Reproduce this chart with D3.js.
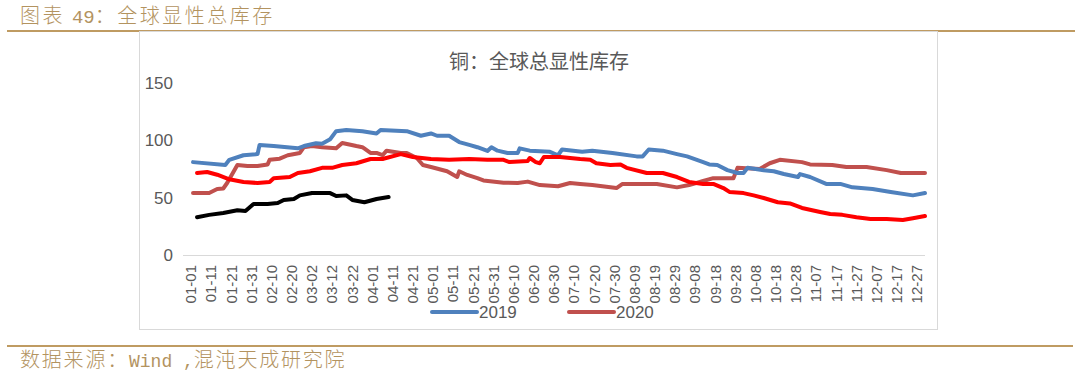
<!DOCTYPE html>
<html>
<head>
<meta charset="utf-8">
<script src="https://cdn.jsdelivr.net/npm/d3@7"></script>
<style>
  body { margin: 0; background: #fff; }
  svg { display: block; }
</style>
</head>
<body>
<div id="chart"></div>
<script>
// tick labels on the category axis (every 10 days)
const tickLabels = ['01-01', '01-11', '01-21', '01-31', '02-10', '02-20', '03-02', '03-12', '03-22',
  '04-01', '04-11', '04-21', '05-01', '05-11', '05-21', '05-31', '06-10', '06-20', '06-30',
  '07-10', '07-20', '07-30', '08-09', '08-19', '08-29', '09-08', '09-18', '09-28', '10-08',
  '10-18', '10-28', '11-07', '11-17', '11-27', '12-07', '12-17', '12-27'];
const yTicks = [0, 50, 100, 150];

// 2019 (blue)
const blueDates = ['01-02', '01-18', '01-20', '01-27', '02-03', '02-04', '02-11', '02-23', '02-26', '03-04',
  '03-07', '03-11', '03-14', '03-19', '03-27', '04-03', '04-05', '04-18', '04-25', '04-30', '05-03', '05-09',
  '05-14', '05-19', '05-23', '05-28', '05-30', '06-02', '06-07', '06-12', '06-13', '06-18', '06-28', '07-02',
  '07-04', '07-14', '07-19', '07-29', '08-10', '08-13', '08-16', '08-23', '08-30', '09-04', '09-12', '09-15',
  '09-19', '09-24', '09-29', '10-02', '10-04', '10-12', '10-17', '10-22', '10-29', '10-30', '11-04', '11-12',
  '11-19', '11-25', '12-05', '12-14', '12-25', '12-31'];
const blueValues = [81, 78.5, 83, 87, 88, 96, 95, 93, 95, 97.5,
  97, 101, 108, 109, 108, 106, 109, 108, 104, 106, 104, 104,
  98.5, 96, 94, 90.7, 94, 91, 89, 89, 93, 91, 90, 87,
  92, 90, 91, 89, 86, 86, 92, 91, 88, 86, 81, 79,
  78.5, 74, 71.5, 71.5, 76, 74, 73, 70.6, 68, 70.6, 68, 62,
  62, 59, 57.5, 55, 52, 54];

// 2020 (dark red)
const darkRedDates = ['01-02', '01-10', '01-14', '01-17', '01-19', '01-24', '01-29', '02-03', '02-08', '02-09',
  '02-14', '02-18', '02-24', '02-26', '03-02', '03-07', '03-14', '03-17', '03-24', '03-27', '03-31', '04-03',
  '04-06', '04-08', '04-15', '04-18', '04-23', '04-26', '04-30', '05-08', '05-13', '05-14', '05-18', '05-23',
  '05-26', '06-05', '06-12', '06-17', '06-23', '07-02', '07-08', '07-13', '07-19', '07-28', '07-31', '08-03',
  '08-20', '08-30', '09-05', '09-12', '09-17', '09-27', '09-29', '10-10', '10-15', '10-20', '10-31', '11-04',
  '11-15', '11-22', '12-02', '12-12', '12-19', '12-31'];
const darkRedValues = [54, 54, 57.5, 58, 63, 78.5, 77.6, 77.6, 79, 83,
  84, 87, 89, 94, 95, 94, 93, 97.7, 95, 94, 89, 89,
  87, 91, 89, 89, 84.6, 78.5, 76.7, 73, 68, 73, 69.8, 67,
  65, 63, 62.8, 64, 61, 60, 62.8, 62, 61, 59, 58.4, 62,
  62, 59, 61, 64.5, 67, 67, 76, 75, 80, 83, 81, 79,
  78.5, 76.7, 76.7, 74, 71.5, 71.5];

// red series
const redDates = ['01-04', '01-09', '01-14', '01-20', '01-27', '02-03', '02-09', '02-11', '02-19', '02-23',
  '03-01', '03-07', '03-12', '03-17', '03-24', '03-31', '04-06', '04-15', '04-21', '04-30', '05-09', '05-19',
  '05-28', '06-05', '06-08', '06-17', '06-18', '06-21', '06-23', '06-25', '07-03', '07-13', '07-18', '07-21',
  '07-28', '08-02', '08-05', '08-15', '08-23', '08-30', '09-05', '09-12', '09-17', '09-22', '09-25', '10-02',
  '10-07', '10-12', '10-19', '10-25', '10-31', '11-09', '11-14', '11-20', '11-27', '12-04', '12-12', '12-20',
  '12-25', '12-31'];
const redValues = [71.5, 72.4, 70, 66, 63.7, 62.8, 63.7, 67, 68, 71.5,
  73, 76, 76, 78.5, 80, 83.7, 83.7, 88, 85.5, 83.7, 83, 83.7,
  83, 83, 81, 82, 84.6, 81, 80, 85.5, 85.5, 83.7, 83, 80,
  78.5, 79, 76, 71.5, 71.5, 68, 63.7, 62, 62, 58.4, 55, 54,
  52, 49.7, 46, 45, 41, 37.5, 35.7, 35, 33, 31.4, 31.4, 30.5,
  32, 34];

// black series
const blackDates = ['01-04', '01-10', '01-17', '01-24', '01-28', '02-01', '02-08', '02-13', '02-16', '02-21',
  '02-24', '03-02', '03-11', '03-14', '03-19', '03-22', '03-28', '04-03', '04-09'];
const blackValues = [33, 35, 36.6, 39, 38.4, 44.5, 44.5, 45.3, 48, 48.8,
  52, 54, 54, 51.5, 52, 48, 46, 48.8, 50.6];

const width = 1080, height = 378;
const gold = '#bf9b62', goldText = '#b3935f', grey = '#595959';

const svg = d3.select('div#chart').append('svg')
  .attr('width', width)
  .attr('height', height);

// page header / footer
svg.append('line')
  .attr('x1', 7).attr('x2', 1075).attr('y1', 31).attr('y2', 31)
  .attr('stroke', gold).attr('stroke-width', 2);
svg.append('line')
  .attr('x1', 7).attr('x2', 1073).attr('y1', 346).attr('y2', 346)
  .attr('stroke', gold).attr('stroke-width', 2);

const header = svg.append('text')
  .attr('x', 20).attr('y', 23)
  .attr('fill', goldText)
  .style('font-family', '"Noto Sans CJK SC"')
  .style('font-size', '20px')
  .style('font-weight', 300)
  .style('letter-spacing', '2.5px');
header.append('tspan').text('图表 ');
header.append('tspan').style('font-family', '"Liberation Mono"').style('font-size', '19px').style('letter-spacing', '0px').text('49');
header.append('tspan').text('：全球显性总库存');

const footer = svg.append('text')
  .attr('x', 20).attr('y', 367)
  .attr('fill', goldText)
  .style('font-family', '"Noto Sans CJK SC"')
  .style('font-size', '20px')
  .style('font-weight', 300)
  .style('letter-spacing', '1.8px');
footer.append('tspan').text('数据来源：');
footer.append('tspan').style('font-family', '"Liberation Mono"').style('font-size', '18px').style('letter-spacing', '0px').text('Wind ,');
footer.append('tspan').text('混沌天成研究院');

// chart frame
svg.append('rect')
  .attr('x', 139.5).attr('y', 31.5)
  .attr('width', 798).attr('height', 298)
  .attr('fill', '#fff')
  .attr('stroke', '#d9d9d9');

svg.append('text')
  .attr('x', 539).attr('y', 69)
  .attr('text-anchor', 'middle')
  .attr('fill', grey)
  .style('font-family', '"Noto Sans CJK SC"')
  .style('font-size', '20px')
  .text('铜：全球总显性库存');

const parse = d3.timeParse('%m-%d');

const xScale = d3.scaleTime()
  .domain([parse('01-01'), parse('12-31')])
  .range([191, 925]);

const yScale = d3.scaleLinear()
  .domain([0, 150])
  .range([255, 83]);

// axis line
svg.append('line')
  .attr('x1', 183).attr('x2', 925)
  .attr('y1', yScale(0) + 0.5).attr('y2', yScale(0) + 0.5)
  .attr('stroke', '#d9d9d9').attr('stroke-width', 1);

svg.append('g').selectAll('text')
  .data(yTicks)
  .join('text')
  .attr('x', 173)
  .attr('y', d => yScale(d))
  .attr('dy', '0.35em')
  .attr('text-anchor', 'end')
  .attr('fill', grey)
  .style('font-family', '"Liberation Sans", Arial')
  .style('font-size', '17px')
  .text(d => d);

svg.append('g').selectAll('text')
  .data(tickLabels)
  .join('text')
  .attr('transform', d => 'translate(' + xScale(parse(d)) + ',265) rotate(-90)')
  .attr('dy', '0.35em')
  .attr('text-anchor', 'end')
  .attr('fill', grey)
  .style('font-family', '"Liberation Sans", Arial')
  .style('font-size', '15px')
  .text(d => d);

const line = d3.line()
  .x(d => xScale(parse(d[0])))
  .y(d => yScale(d[1]));

const series = [
  { dates: darkRedDates, values: darkRedValues, color: '#c0504d' },
  { dates: blueDates, values: blueValues, color: '#4f81bd' },
  { dates: redDates, values: redValues, color: '#ff0000' },
  { dates: blackDates, values: blackValues, color: '#000000' }
];

svg.append('g').selectAll('path')
  .data(series)
  .join('path')
  .attr('d', s => line(d3.zip(s.dates, s.values)))
  .attr('fill', 'none')
  .attr('stroke', s => s.color)
  .attr('stroke-width', 4)
  .attr('stroke-linejoin', 'round')
  .attr('stroke-linecap', 'round');

// legend
const legend = [
  { label: '2019', color: '#4f81bd', x: 432 },
  { label: '2020', color: '#c0504d', x: 569 }
];
const lg = svg.append('g').selectAll('g')
  .data(legend)
  .join('g')
  .attr('transform', d => 'translate(' + d.x + ',312)');
lg.append('line')
  .attr('x1', 0).attr('x2', 45)
  .attr('stroke', d => d.color)
  .attr('stroke-width', 4)
  .attr('stroke-linecap', 'round');
lg.append('text')
  .attr('x', 47)
  .attr('dy', '0.35em')
  .attr('fill', grey)
  .style('font-family', '"Liberation Sans", Arial')
  .style('font-size', '17px')
  .text(d => d.label);
</script>
</body>
</html>
